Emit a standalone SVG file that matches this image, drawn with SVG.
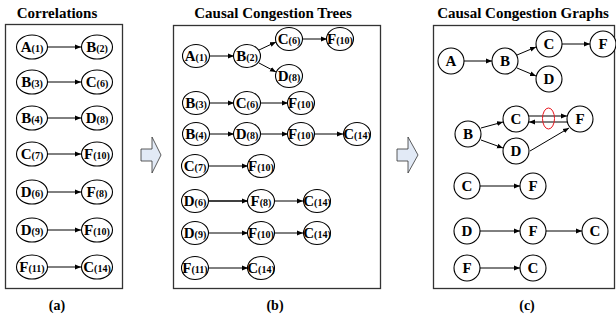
<svg xmlns="http://www.w3.org/2000/svg" width="616" height="320" viewBox="0 0 616 320" font-family="'Liberation Serif', 'Times New Roman', serif">
<defs>
<marker id="ah" viewBox="0 0 10 10" refX="10" refY="5" markerWidth="6" markerHeight="6" markerUnits="userSpaceOnUse" orient="auto"><path d="M0,1 L10,5 L0,9 z" fill="#000"/></marker>
<style>
text{font-family:'Liberation Serif','Times New Roman',serif;font-weight:bold;fill:#000;}
.title{font-size:15px;text-anchor:middle;}
.cap{font-size:14px;text-anchor:middle;}
.n{fill:#fff;stroke:#000;stroke-width:1.1;}
.lbl{font-size:15px;text-anchor:middle;}
.sub{font-size:10px;}
.box{fill:#fff;stroke:#333;stroke-width:1.3;}
.e{stroke:#000;stroke-width:1;fill:none;marker-end:url(#ah);}
.blk{fill:#e2eaf6;stroke:#333;stroke-width:0.8;}
</style>
</defs>
<rect width="616" height="320" fill="#fff"/>

<text class="title" x="57" y="18">Correlations</text>
<text class="title" x="273" y="18">Causal Congestion Trees</text>
<text class="title" x="523" y="18">Causal Congestion Graphs</text>

<rect class="box" x="5.5" y="24.5" width="117" height="264"/>
<rect class="box" x="173.5" y="25.5" width="207" height="263"/>
<rect class="box" x="433.5" y="25.5" width="181" height="263"/>

<text class="cap" x="57" y="310">(a)</text>
<text class="cap" x="275" y="310">(b)</text>
<text class="cap" x="527" y="310">(c)</text>

<path class="blk" d="M141,149 H152 V137 L161,155 L152,173 V161 H141 Z"/>
<path class="blk" d="M397,149 H408 V137 L418,155 L408,173 V161 H397 Z"/>

<g id="connectors">
<!-- (a) -->
<line class="e" x1="48" y1="47" x2="81" y2="47"/>
<line class="e" x1="48" y1="82" x2="81" y2="82"/>
<line class="e" x1="48" y1="118" x2="81" y2="118"/>
<line class="e" x1="48" y1="154" x2="81" y2="154"/>
<line class="e" x1="48" y1="192" x2="81" y2="192"/>
<line class="e" x1="48" y1="230" x2="81" y2="230"/>
<line class="e" x1="48" y1="267" x2="81" y2="267"/>
<!-- (b) -->
<line class="e" x1="209" y1="56" x2="234" y2="56"/>
<line class="e" x1="259" y1="50" x2="276" y2="42"/>
<line class="e" x1="259" y1="63" x2="276" y2="72"/>
<line class="e" x1="302" y1="39" x2="327" y2="39"/>
<line class="e" x1="209" y1="103" x2="234" y2="103"/>
<line class="e" x1="261" y1="103" x2="288" y2="103"/>
<line class="e" x1="209" y1="134" x2="234" y2="134"/>
<line class="e" x1="261" y1="134" x2="288" y2="134"/>
<line class="e" x1="315" y1="134" x2="343" y2="134"/>
<line class="e" x1="209" y1="166" x2="248" y2="166"/>
<line class="e" x1="209" y1="201" x2="248" y2="201" style="stroke-width:1.4"/>
<line class="e" x1="275" y1="201" x2="303" y2="201"/>
<line class="e" x1="209" y1="233" x2="248" y2="233"/>
<line class="e" x1="275" y1="233" x2="303" y2="233"/>
<line class="e" x1="209" y1="268" x2="248" y2="268"/>
<!-- (c) -->
<line class="e" x1="464" y1="61" x2="492" y2="61"/>
<line class="e" x1="517" y1="55" x2="536" y2="47"/>
<line class="e" x1="517" y1="68" x2="536" y2="76"/>
<line class="e" x1="562" y1="44" x2="590" y2="44"/>
<line class="e" x1="481" y1="128" x2="503" y2="122"/>
<line class="e" x1="481" y1="140" x2="503" y2="148"/>
<line class="e" x1="529" y1="116" x2="567" y2="116"/>
<line class="e" x1="567" y1="122" x2="529" y2="122"/>
<line class="e" x1="530" y1="151" x2="569" y2="128"/>
<line class="e" x1="480" y1="186" x2="520" y2="186"/>
<line class="e" x1="480" y1="231" x2="520" y2="231"/>
<line class="e" x1="546" y1="231" x2="582" y2="231"/>
<line class="e" x1="480" y1="268" x2="520" y2="268"/>
<ellipse cx="548.5" cy="118.5" rx="6" ry="10.5" fill="none" stroke="#e8141c" stroke-width="1"/>
</g>

<!-- (a) nodes -->
<g id="a-A1"><ellipse class="n" cx="32" cy="47" rx="15.5" ry="12"/><text class="lbl" x="32" y="52">A<tspan class="sub">(1)</tspan></text></g>
<g id="a-B2"><ellipse class="n" cx="97" cy="47" rx="15.5" ry="12"/><text class="lbl" x="97" y="52">B<tspan class="sub">(2)</tspan></text></g>
<g id="a-B3"><ellipse class="n" cx="32" cy="82" rx="15.5" ry="12"/><text class="lbl" x="32" y="87">B<tspan class="sub">(3)</tspan></text></g>
<g id="a-C6"><ellipse class="n" cx="97" cy="82" rx="15.5" ry="12"/><text class="lbl" x="97" y="87">C<tspan class="sub">(6)</tspan></text></g>
<g id="a-B4"><ellipse class="n" cx="32" cy="118" rx="15.5" ry="12"/><text class="lbl" x="32" y="123">B<tspan class="sub">(4)</tspan></text></g>
<g id="a-D8"><ellipse class="n" cx="97" cy="118" rx="15.5" ry="12"/><text class="lbl" x="97" y="123">D<tspan class="sub">(8)</tspan></text></g>
<g id="a-C7"><ellipse class="n" cx="32" cy="154" rx="15.5" ry="12"/><text class="lbl" x="32" y="159">C<tspan class="sub">(7)</tspan></text></g>
<g id="a-F10"><ellipse class="n" cx="97" cy="154" rx="15.5" ry="12"/><text class="lbl" x="97" y="159">F<tspan class="sub">(10)</tspan></text></g>
<g id="a-D6"><ellipse class="n" cx="32" cy="192" rx="15.5" ry="12"/><text class="lbl" x="32" y="197">D<tspan class="sub">(6)</tspan></text></g>
<g id="a-F8"><ellipse class="n" cx="97" cy="192" rx="15.5" ry="12"/><text class="lbl" x="97" y="197">F<tspan class="sub">(8)</tspan></text></g>
<g id="a-D9"><ellipse class="n" cx="32" cy="230" rx="15.5" ry="12"/><text class="lbl" x="32" y="235">D<tspan class="sub">(9)</tspan></text></g>
<g id="a-F10b"><ellipse class="n" cx="97" cy="230" rx="15.5" ry="12"/><text class="lbl" x="97" y="235">F<tspan class="sub">(10)</tspan></text></g>
<g id="a-F11"><ellipse class="n" cx="32" cy="267" rx="15.5" ry="12"/><text class="lbl" x="32" y="272">F<tspan class="sub">(11)</tspan></text></g>
<g id="a-C14"><ellipse class="n" cx="97" cy="267" rx="15.5" ry="12"/><text class="lbl" x="97" y="272">C<tspan class="sub">(14)</tspan></text></g>

<!-- (b) nodes -->
<g id="b-A1"><ellipse class="n" cx="196" cy="56" rx="13.5" ry="11.5"/><text class="lbl" x="196" y="61">A<tspan class="sub">(1)</tspan></text></g>
<g id="b-B2"><ellipse class="n" cx="247" cy="56" rx="13.5" ry="11.5"/><text class="lbl" x="247" y="61">B<tspan class="sub">(2)</tspan></text></g>
<g id="b-C6a"><ellipse class="n" cx="289" cy="39" rx="13.5" ry="11.5"/><text class="lbl" x="289" y="44">C<tspan class="sub">(6)</tspan></text></g>
<g id="b-F10a"><ellipse class="n" cx="340" cy="39" rx="13.5" ry="11.5"/><text class="lbl" x="340" y="44">F<tspan class="sub">(10)</tspan></text></g>
<g id="b-D8a"><ellipse class="n" cx="289" cy="76" rx="13.5" ry="11.5"/><text class="lbl" x="289" y="81">D<tspan class="sub">(8)</tspan></text></g>

<g id="b-B3"><ellipse class="n" cx="196" cy="103" rx="13.5" ry="11.5"/><text class="lbl" x="196" y="108">B<tspan class="sub">(3)</tspan></text></g>
<g id="b-C6b"><ellipse class="n" cx="247" cy="103" rx="13.5" ry="11.5"/><text class="lbl" x="247" y="108">C<tspan class="sub">(6)</tspan></text></g>
<g id="b-F10b"><ellipse class="n" cx="301" cy="103" rx="13.5" ry="11.5"/><text class="lbl" x="301" y="108">F<tspan class="sub">(10)</tspan></text></g>

<g id="b-B4"><ellipse class="n" cx="196" cy="134" rx="13.5" ry="11.5"/><text class="lbl" x="196" y="139">B<tspan class="sub">(4)</tspan></text></g>
<g id="b-D8b"><ellipse class="n" cx="247" cy="134" rx="13.5" ry="11.5"/><text class="lbl" x="247" y="139">D<tspan class="sub">(8)</tspan></text></g>
<g id="b-F10c"><ellipse class="n" cx="301" cy="134" rx="13.5" ry="11.5"/><text class="lbl" x="301" y="139">F<tspan class="sub">(10)</tspan></text></g>
<g id="b-C14a"><ellipse class="n" cx="357" cy="134" rx="13.5" ry="11.5"/><text class="lbl" x="357" y="139">C<tspan class="sub">(14)</tspan></text></g>

<g id="b-C7"><ellipse class="n" cx="195" cy="166" rx="13.5" ry="11.5"/><text class="lbl" x="195" y="171">C<tspan class="sub">(7)</tspan></text></g>
<g id="b-F10d"><ellipse class="n" cx="261" cy="166" rx="13.5" ry="11.5"/><text class="lbl" x="261" y="171">F<tspan class="sub">(10)</tspan></text></g>

<g id="b-D6"><ellipse class="n" cx="195" cy="201" rx="13.5" ry="11.5"/><text class="lbl" x="195" y="206">D<tspan class="sub">(6)</tspan></text></g>
<g id="b-F8"><ellipse class="n" cx="261" cy="201" rx="13.5" ry="11.5"/><text class="lbl" x="261" y="206">F<tspan class="sub">(8)</tspan></text></g>
<g id="b-C14b"><ellipse class="n" cx="317" cy="201" rx="13.5" ry="11.5"/><text class="lbl" x="317" y="206">C<tspan class="sub">(14)</tspan></text></g>

<g id="b-D9"><ellipse class="n" cx="195" cy="233" rx="13.5" ry="11.5"/><text class="lbl" x="195" y="238">D<tspan class="sub">(9)</tspan></text></g>
<g id="b-F10e"><ellipse class="n" cx="261" cy="233" rx="13.5" ry="11.5"/><text class="lbl" x="261" y="238">F<tspan class="sub">(10)</tspan></text></g>
<g id="b-C14c"><ellipse class="n" cx="317" cy="233" rx="13.5" ry="11.5"/><text class="lbl" x="317" y="238">C<tspan class="sub">(14)</tspan></text></g>

<g id="b-F11"><ellipse class="n" cx="195" cy="268" rx="13.5" ry="11.5"/><text class="lbl" x="195" y="273">F<tspan class="sub">(11)</tspan></text></g>
<g id="b-C14d"><ellipse class="n" cx="261" cy="268" rx="13.5" ry="11.5"/><text class="lbl" x="261" y="273">C<tspan class="sub">(14)</tspan></text></g>

<!-- (c) nodes -->
<g id="c-A"><circle class="n" cx="451" cy="61" r="13"/><text class="lbl" x="451" y="66">A</text></g>
<g id="c-B"><circle class="n" cx="505" cy="61" r="13"/><text class="lbl" x="505" y="66">B</text></g>
<g id="c-C"><circle class="n" cx="549" cy="44" r="13"/><text class="lbl" x="549" y="49">C</text></g>
<g id="c-F"><circle class="n" cx="603" cy="44" r="13"/><text class="lbl" x="603" y="49">F</text></g>
<g id="c-D"><circle class="n" cx="549" cy="79" r="13"/><text class="lbl" x="549" y="84">D</text></g>

<g id="c-B2"><circle class="n" cx="468" cy="134" r="13"/><text class="lbl" x="468" y="139">B</text></g>
<g id="c-C2"><circle class="n" cx="516" cy="119" r="13"/><text class="lbl" x="516" y="124">C</text></g>
<g id="c-D2"><circle class="n" cx="516" cy="151" r="13"/><text class="lbl" x="516" y="156">D</text></g>
<g id="c-F2"><circle class="n" cx="580" cy="119" r="13"/><text class="lbl" x="580" y="124">F</text></g>

<g id="c-C3"><circle class="n" cx="467" cy="186" r="13"/><text class="lbl" x="467" y="191">C</text></g>
<g id="c-F3"><circle class="n" cx="533" cy="186" r="13"/><text class="lbl" x="533" y="191">F</text></g>

<g id="c-D4"><circle class="n" cx="467" cy="231" r="13"/><text class="lbl" x="467" y="236">D</text></g>
<g id="c-F4"><circle class="n" cx="533" cy="231" r="13"/><text class="lbl" x="533" y="236">F</text></g>
<g id="c-C4"><circle class="n" cx="595" cy="231" r="13"/><text class="lbl" x="595" y="236">C</text></g>

<g id="c-F5"><circle class="n" cx="467" cy="268" r="13"/><text class="lbl" x="467" y="273">F</text></g>
<g id="c-C5"><circle class="n" cx="533" cy="268" r="13"/><text class="lbl" x="533" y="273">C</text></g>
</svg>
